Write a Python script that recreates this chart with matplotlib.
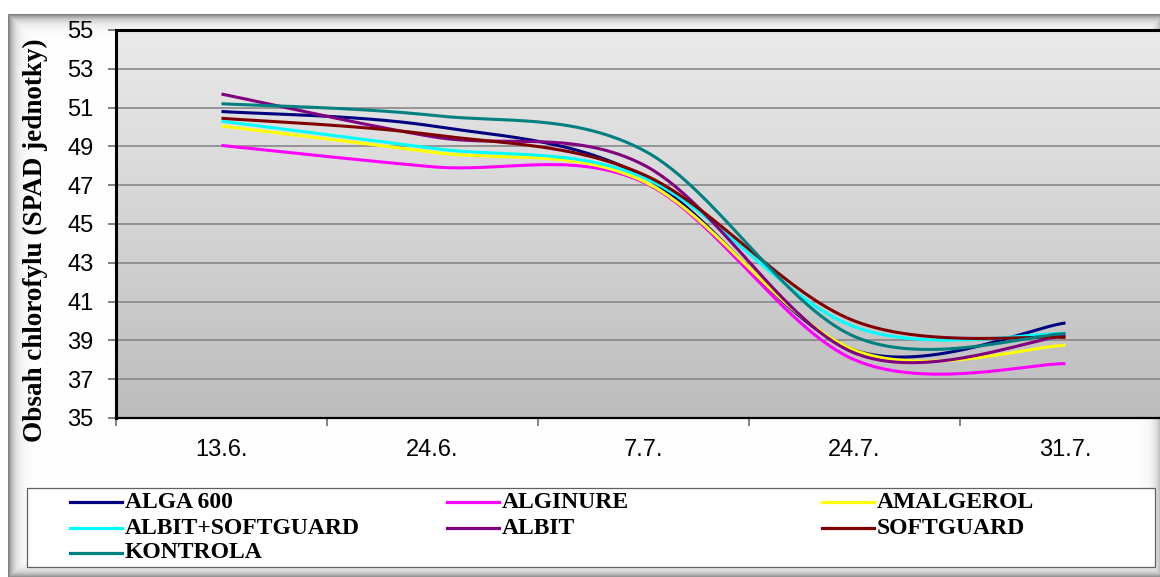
import numpy as np
from matplotlib import pyplot as plt
from matplotlib.lines import Line2D
from matplotlib.patches import Rectangle

# SPAD readings per date
dates = ['13.6.', '24.6.', '7.7.', '24.7.', '31.7.']
alga_600 = [50.8, 50.05, 47.45, 38.5, 39.9]
alginure = [49.05, 47.95, 47.15, 38.0, 37.8]
amalgerol = [50.05, 48.7, 47.2, 38.5, 38.75]
albit_softguard = [50.3, 48.9, 47.4, 39.7, 39.35]
albit = [51.7, 49.5, 48.05, 38.35, 39.25]
softguard = [50.45, 49.6, 47.55, 40.0, 39.15]
kontrola = [51.2, 50.6, 48.8, 39.2, 39.35]

names = ['ALGA 600', 'ALGINURE', 'AMALGEROL', 'ALBIT+SOFTGUARD',
         'ALBIT', 'SOFTGUARD', 'KONTROLA']
series = [alga_600, alginure, amalgerol, albit_softguard,
          albit, softguard, kontrola]
colors = ['#000080', '#FF00FF', '#FFFF00', '#00FFFF',
          '#800080', '#800000', '#008080']

W, H = 1160, 577


def smooth(xs, ys, n=60):
    # bezier smoothing like the excel "smoothed line" option
    pts = np.column_stack([xs, ys]).astype(float)
    t = np.linspace(0, 1, n)[:, None]
    out = []
    for i in range(len(pts) - 1):
        p0 = pts[max(i - 1, 0)]
        p1 = pts[i]
        p2 = pts[i + 1]
        p3 = pts[min(i + 2, len(pts) - 1)]
        c1 = p1 + (p2 - p0) / 6
        c2 = p2 - (p3 - p1) / 6
        seg = ((1 - t) ** 3 * p1 + 3 * (1 - t) ** 2 * t * c1
               + 3 * (1 - t) * t ** 2 * c2 + t ** 3 * p2)
        out.append(seg if i == 0 else seg[1:])
    return np.vstack(out)


def bevel_background():
    yy, xx = np.mgrid[0:H, 0:W]
    x0, y0, x1, y1 = 8, 14, 1163, 577
    d = np.minimum.reduce([xx - x0, yy - y0, x1 - xx, y1 - yy]).astype(float)
    val = 1 - 0.5 * np.exp(-np.clip(d, 0, None) / 5.5)
    val[d < 0] = 1.0
    return np.dstack([val, val, val])


def fx(px):
    return px / W


def fy(py):
    return 1 - py / H


def main():
    fig = plt.figure(figsize=(W / 100, H / 100), dpi=100)
    fig.figimage(bevel_background(), xo=0, yo=0, origin='upper', zorder=0)

    left, right, top, bottom = 116, 1171, 30, 418
    ax = fig.add_axes([fx(left), fy(bottom), (right - left) / W,
                       (bottom - top) / H])
    ax.set_zorder(2)

    # vertical grey gradient of the plot area
    grad = np.linspace(0.92, 0.74, 256)[:, None]
    ax.imshow(np.dstack([grad, grad, grad]), extent=[0, 1, 0, 1],
              transform=ax.transAxes, aspect='auto', zorder=0)

    x = np.arange(len(dates))
    for vals, color in zip(series, colors):
        curve = smooth(x, vals)
        ax.plot(curve[:, 0], curve[:, 1], color=color, lw=2.2, zorder=3,
                solid_capstyle='butt')

    ax.set_xlim(-0.5, len(dates) - 0.5)
    ax.set_ylim(35, 55)
    ax.set_yticks(np.arange(35, 56, 2))
    ax.yaxis.grid(True, color='#808080', lw=1.1, zorder=1)
    ax.set_axisbelow(True)

    ax.set_xticks(np.arange(len(dates) + 1) - 0.5)
    ax.set_xticklabels([])
    ax.set_xticks(x, minor=True)
    ax.set_xticklabels(dates, minor=True)
    ax.tick_params(axis='x', which='major', length=6, width=1.1,
                   color='#606060', direction='out')
    ax.tick_params(axis='x', which='minor', length=0, pad=15)
    ax.tick_params(axis='y', length=6, width=1.1, color='#606060', pad=10)
    for lab in ax.get_xticklabels(minor=True) + ax.get_yticklabels():
        lab.set_fontfamily('Liberation Sans')
        lab.set_fontsize(17)

    for side in ['left', 'top']:
        ax.spines[side].set_linewidth(2.2)
    ax.spines['bottom'].set_linewidth(1.6)
    ax.spines['right'].set_visible(False)

    ax.set_ylabel('Obsah chlorofylu (SPAD jednotky)', family='Liberation Serif',
                  fontweight='bold', fontsize=19.5, va='center')
    ax.yaxis.set_label_coords((35 - left) / (right - left),
                              (bottom - 240) / (bottom - top))

    # legend box, filled row by row
    fig.add_artist(Rectangle((fx(27), fy(567)), (1155 - 27) / W, 79 / H,
                             transform=fig.transFigure, facecolor='white',
                             edgecolor='#606060', lw=0.9, zorder=3))
    col_x = [70, 447, 822]
    row_y = [502, 528, 553]
    for i, (name, color) in enumerate(zip(names, colors)):
        cx = col_x[i % 3]
        cy = row_y[i // 3]
        fig.add_artist(Line2D([fx(cx), fx(cx + 52)], [fy(cy), fy(cy)],
                              transform=fig.transFigure, color=color,
                              lw=2.3, zorder=4))
        fig.text(fx(cx + 55), fy(cy), name, family='Liberation Serif',
                 fontweight='bold', fontsize=17, va='center', ha='left',
                 zorder=4)

    fig.savefig('out.png', dpi=100)


main()
